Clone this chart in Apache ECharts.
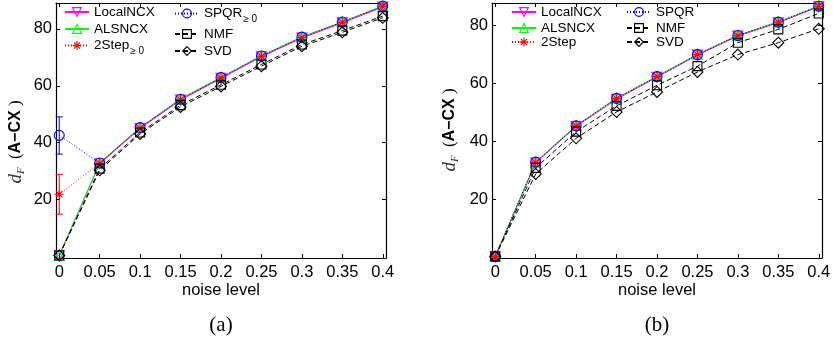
<!DOCTYPE html>
<html>
<head>
<meta charset="utf-8">
<script src="https://cdn.jsdelivr.net/npm/echarts@6/dist/echarts.min.js"></script>
<style>
html,body{margin:0;padding:0;background:#fff;}
#c{width:833px;height:344px;}
</style>
</head>
<body>
<div id="c"></div>
<script>
// ---------- data ----------
const xs = [0, 0.05, 0.1, 0.15, 0.2, 0.25, 0.3, 0.35, 0.4];
const xTicks = [0, 0.05, 0.1, 0.15, 0.2, 0.25, 0.3, 0.35, 0.4];
const yTicks = [20, 40, 60, 80];

// (a)
const localA   = [0.4, 32.6, 45.0, 55.0, 62.6, 70.2, 76.8, 82.1, 87.7];
const alsA     = [0.4, 32.9, 45.4, 55.4, 63.0, 70.6, 77.2, 82.5, 88.0];
const twoStepA = [21.9, 32.8, 45.2, 55.2, 62.8, 70.4, 77.0, 82.3, 87.9];
const spqrA    = [42.6, 32.9, 45.3, 55.3, 62.9, 70.5, 77.1, 82.4, 88.0];
const nmfA     = [0.4, 30.9, 43.6, 53.2, 60.4, 67.5, 74.5, 79.4, 84.5];
const svdA     = [0.4, 30.3, 43.1, 52.6, 59.8, 66.9, 73.9, 78.8, 83.9];
// error bars at noise level 0 in (a): [x, low, high]
const errTwoStepA = [[0, 14.9, 28.9]];
const errSpqrA    = [[0, 36.0, 49.1]];

// (b)
const localB   = [0.3, 32.6, 45.2, 54.6, 62.2, 69.8, 76.4, 81.0, 86.5];
const alsB     = [0.3, 32.9, 45.5, 55.0, 62.5, 70.1, 76.7, 81.3, 86.8];
const twoStepB = [0.3, 32.8, 45.4, 54.8, 62.4, 70.0, 76.6, 81.2, 86.7];
const spqrB    = [0.3, 32.9, 45.4, 54.9, 62.4, 70.0, 76.6, 81.2, 86.7];
const nmfB     = [0.3, 30.9, 43.4, 52.3, 59.4, 66.0, 74.1, 78.7, 84.2];
const svdB     = [0.3, 28.8, 41.1, 50.2, 57.1, 64.0, 70.0, 74.1, 78.9];

// ---------- styling ----------
const SANS = '"Liberation Sans", Arial, Helvetica, sans-serif';
const SERIF = '"Liberation Serif", "DejaVu Serif", serif';
const ASTER = 'path://M5 0 L5 10 M0 5 L10 5 M1.5 1.5 L8.5 8.5 M8.5 1.5 L1.5 8.5';
const STYLES = {
  'LocalNCX': {color: '#ff00ff', symbol: 'triangle', rotate: 180, type: 'solid', size: 10},
  'ALSNCX':   {color: '#00ff00', symbol: 'triangle', rotate: 0, type: 'solid', size: 10},
  '2Step':    {color: '#ff0000', symbol: ASTER, rotate: 0, type: [1, 2], size: 9},
  'SPQR':     {color: '#0000ff', symbol: 'circle', rotate: 0, type: [1, 2], size: 10},
  'NMF':      {color: '#000000', symbol: 'rect', rotate: 0, type: [5, 3], size: 9},
  'SVD':      {color: '#000000', symbol: 'diamond', rotate: 0, type: [5, 3], size: 11}
};

const grids = [
  {left: 56, top: 3, width: 330, height: 255, ymin: -0.5, ymax: 89.1},
  {left: 492, top: 3, width: 330, height: 255, ymin: -0.2, ymax: 87.8}
];

function mkSeries(name, key, vals, g) {
  const s = STYLES[key];
  return {
    name: name, type: 'line', xAxisIndex: 2 * g, yAxisIndex: 2 * g,
    data: xs.map((x, i) => [x, vals[i]]),
    symbol: s.symbol, symbolSize: s.size, symbolRotate: s.rotate,
    showAllSymbol: true, animation: false,
    lineStyle: {color: s.color, width: 1, type: s.type},
    itemStyle: {color: 'rgba(0,0,0,0)', borderColor: s.color, borderWidth: 1.1},
    emphasis: {disabled: true}
  };
}

function mkErr(data, color, g) {
  return {
    type: 'custom', xAxisIndex: 2 * g, yAxisIndex: 2 * g, data: data, silent: true, animation: false,
    renderItem: function (params, api) {
      const x = api.value(0), lo = api.value(1), hi = api.value(2);
      const p1 = api.coord([x, lo]), p2 = api.coord([x, hi]);
      const w = 3.5;
      const st = {stroke: color, lineWidth: 1};
      return {type: 'group', children: [
        {type: 'line', shape: {x1: p1[0], y1: p1[1], x2: p2[0], y2: p2[1]}, style: st},
        {type: 'line', shape: {x1: p1[0] - w, y1: p1[1], x2: p1[0] + w, y2: p1[1]}, style: st},
        {type: 'line', shape: {x1: p2[0] - w, y1: p2[1], x2: p2[0] + w, y2: p2[1]}, style: st}
      ]};
    }
  };
}

const xAxes = [], yAxes = [];
grids.forEach((gr, g) => {
  const common = {type: 'value', gridIndex: g, min: -0.004, max: 0.404,
    axisLine: {show: true, onZero: false, lineStyle: {color: '#000', width: 1.2}},
    splitLine: {show: false},
    axisTick: {show: true, inside: true, length: 4, customValues: xTicks, lineStyle: {color: '#000'}}};
  xAxes.push(Object.assign({}, common, {position: 'bottom',
    axisLabel: {customValues: xTicks, margin: 6, color: '#000', fontSize: 16.5, fontFamily: SANS,
      formatter: v => String(v)}}));
  xAxes.push(Object.assign({}, common, {position: 'top', axisLabel: {show: false}}));
  const ycommon = {type: 'value', gridIndex: g, min: gr.ymin, max: gr.ymax,
    axisLine: {show: true, onZero: false, lineStyle: {color: '#000', width: 1.2}},
    splitLine: {show: false},
    axisTick: {show: true, inside: true, length: 4, customValues: yTicks, lineStyle: {color: '#000'}}};
  yAxes.push(Object.assign({}, ycommon, {position: 'left',
    axisLabel: {customValues: yTicks, margin: 4, color: '#000', fontSize: 16.5, fontFamily: SANS}}));
  yAxes.push(Object.assign({}, ycommon, {position: 'right', axisLabel: {show: false}}));
});

const series = [
  mkSeries('LocalNCX', 'LocalNCX', localA, 0),
  mkSeries('ALSNCX', 'ALSNCX', alsA, 0),
  mkSeries('2Step≥0', '2Step', twoStepA, 0),
  mkSeries('SPQR≥0', 'SPQR', spqrA, 0),
  mkSeries('NMF', 'NMF', nmfA, 0),
  mkSeries('SVD', 'SVD', svdA, 0),
  mkErr(errTwoStepA, '#ff0000', 0),
  mkErr(errSpqrA, '#0000ff', 0),
  mkSeries('LocalNCX ', 'LocalNCX', localB, 1),
  mkSeries('ALSNCX ', 'ALSNCX', alsB, 1),
  mkSeries('2Step', '2Step', twoStepB, 1),
  mkSeries('SPQR', 'SPQR', spqrB, 1),
  mkSeries('NMF ', 'NMF', nmfB, 1),
  mkSeries('SVD ', 'SVD', svdB, 1)
];

// legend layout: [series name, left(px), top(px)]
const legendLayout = [
  ['LocalNCX', 64, 5], ['ALSNCX', 64, 22], ['2Step≥0', 64, 35],
  ['SPQR≥0', 174, 3], ['NMF', 174, 27], ['SVD', 174, 44],
  ['LocalNCX ', 511, 5], ['ALSNCX ', 511, 21], ['2Step', 511, 35],
  ['SPQR', 626, 5], ['NMF ', 626, 21], ['SVD ', 626, 35]
];
const LEG_FS = 13.5;
const rich = {
  s: {fontSize: 10, fontFamily: SANS, color: '#000', lineHeight: 10, padding: [11, 0, 0, 1]}
};
const legends = legendLayout.map(([name, left, top]) => ({
  data: [name], left: left, top: top, orient: 'vertical', padding: 0,
  itemWidth: 24, itemHeight: 11, itemGap: 0, selectedMode: false,
  itemStyle: {color: 'rgba(0,0,0,0)', borderColor: 'inherit', borderWidth: 1.1},
  textStyle: {fontSize: LEG_FS, fontFamily: SANS, color: '#000', rich: rich},
  formatter: function (n) {
    const t = n.trim();
    if (t.endsWith('≥0')) return t.slice(0, -2) + '{s|≥ 0}';
    return t;
  }
}));

const yTitle = (x, y) => ({
  type: 'text', x: x, y: y, rotation: Math.PI / 2,
  style: {
    text: '{d|d}{f|F}{p| (}{b|A−CX}{p| )}',
    align: 'center', verticalAlign: 'middle',
    rich: {
      d: {fontSize: 19, fontFamily: SERIF, fontStyle: 'italic', fill: '#333', lineHeight: 20},
      f: {fontSize: 11, fontFamily: SERIF, fontStyle: 'italic', fill: '#333', lineHeight: 10, padding: [10, 4, 0, 0]},
      p: {fontSize: 17, fontFamily: SERIF, fill: '#000', lineHeight: 20},
      b: {fontSize: 16, fontFamily: SANS, fontWeight: 'bold', fill: '#000', lineHeight: 20}
    }
  }
});

const option = {
  backgroundColor: '#fff',
  animation: false,
  grid: grids.map(gr => ({left: gr.left, top: gr.top, width: gr.width, height: gr.height,
    containLabel: false, outerBoundsMode: 'none', show: false})),
  xAxis: xAxes,
  yAxis: yAxes,
  legend: legends,
  series: series,
  graphic: [
    yTitle(16, 142), yTitle(450, 130),
    {type: 'text', x: 221, y: 290, style: {text: 'noise level', fontSize: 16.5, fontFamily: SANS, fill: '#000', align: 'center', verticalAlign: 'middle'}},
    {type: 'text', x: 657, y: 290, style: {text: 'noise level', fontSize: 16.5, fontFamily: SANS, fill: '#000', align: 'center', verticalAlign: 'middle'}},
    {type: 'text', x: 221, y: 325, style: {text: '(a)', fontSize: 21, fontFamily: SERIF, fill: '#000', align: 'center', verticalAlign: 'middle'}},
    {type: 'text', x: 657, y: 325, style: {text: '(b)', fontSize: 21, fontFamily: SERIF, fill: '#000', align: 'center', verticalAlign: 'middle'}}
  ]
};

const chart = echarts.init(document.getElementById('c'), null, {renderer: 'canvas'});
chart.setOption(option);
</script>
</body>
</html>
